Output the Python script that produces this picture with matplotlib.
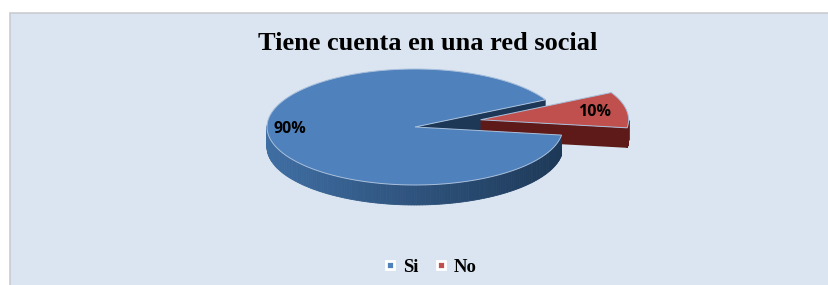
import numpy as np
import matplotlib.pyplot as plt
from matplotlib.patches import Polygon, Rectangle
from matplotlib.lines import Line2D

TITLE = "Tiene cuenta en una red social"
labels = ["Si", "No"]
values = [90, 10]
explode = [0.0, 0.45]

top_colors = ["#4f81bd", "#c0504d"]
side_light = ["#3f6ea3", "#8a2e2b"]
side_dark = ["#1d3857", "#5e1a18"]

# pie geometry in pixel units
cx, cy, rx, ry, depth = 415, 127, 148, 58, 20
start = 28.0


def pts(angles, r=1.0, dz=0.0, off=(0.0, 0.0)):
    t = np.radians(angles)
    x = cx + off[0] + r * rx * np.cos(t)
    y = cy + off[1] - r * ry * np.sin(t) + dz
    return np.column_stack([x, y])


def main():
    fig = plt.figure(figsize=(8.29, 2.85), dpi=100)
    ax = fig.add_axes([0, 0, 1, 1])
    ax.set_xlim(0, 829)
    ax.set_ylim(285, 0)
    ax.axis("off")

    ax.add_patch(Rectangle((10.5, 12.5), 830, 280, fc="#dbe5f1", ec="#c9ccd1", lw=1.2))

    total = sum(values)
    spans = [v / total * 360 for v in values]
    a0s = start + np.concatenate([[0], np.cumsum(spans)[:-1]])
    slices = []
    for i, (a0, sp) in enumerate(zip(a0s, spans)):
        a1 = a0 + sp
        mid = (a0 + a1) / 2
        off = (explode[i] * rx * np.cos(np.radians(mid)),
               -explode[i] * ry * np.sin(np.radians(mid)) - 6 * explode[i])
        slices.append((a0, a1, mid, off))

    # radial faces
    for i, (a0, a1, mid, off) in enumerate(slices):
        for a, vis in ((a0, np.cos(np.radians(a0)) > 0), (a1, np.cos(np.radians(a1)) < 0)):
            if not vis:
                continue
            c = pts([a], r=0, off=off)[0]
            e = pts([a], off=off)[0]
            quad = [c, e, e + [0, depth], c + [0, depth]]
            ax.add_patch(Polygon(quad, closed=True, fc=side_dark[i], ec="none"))

    # outer walls, shaded by angle
    for i, (a0, a1, mid, off) in enumerate(slices):
        angs = np.linspace(a0, a1, 300)
        for j in range(len(angs) - 1):
            am = (angs[j] + angs[j + 1]) / 2
            if np.sin(np.radians(am)) > 0.02:
                continue
            seg = pts([angs[j], angs[j + 1]], off=off)
            quad = [seg[0], seg[1], seg[1] + [0, depth], seg[0] + [0, depth]]
            k = (np.cos(np.radians(am)) + 1) / 2
            c1 = np.array(plt.matplotlib.colors.to_rgb(side_light[i]))
            c2 = np.array(plt.matplotlib.colors.to_rgb(side_dark[i]))
            col = c1 * (1 - k) + c2 * k
            ax.add_patch(Polygon(quad, closed=True, fc=col, ec=col, lw=0.6))

    # tops
    for i, (a0, a1, mid, off) in enumerate(slices):
        arc = pts(np.linspace(a0, a1, 200), off=off)
        poly = np.vstack([pts([0], r=0, off=off), arc])
        ax.add_patch(Polygon(poly, closed=True, fc=top_colors[i], ec="#a9c0dc", lw=0.7))
        r = 0.86 if explode[i] == 0 else 0.78
        lx, ly = pts([mid], r=r, off=off)[0]
        if explode[i] == 0:
            ly -= 7
        ax.text(lx, ly, f"{values[i]}%", ha="center", va="center", fontsize=11.5,
                fontweight="bold", family="Open Sans", color="black")

    ax.text(428, 43, TITLE, ha="center", va="center", fontsize=19,
            fontweight="bold", family="Liberation Serif")

    handles = [Line2D([], [], ls="none", marker="s", markersize=6, markerfacecolor=c,
                      markeredgecolor="white", markeredgewidth=2) for c in top_colors]
    fig.legend(handles, labels, loc="center", bbox_to_anchor=(0.518, 0.063), ncol=2,
               frameon=False, handlelength=0.8, handletextpad=0.3, columnspacing=0.8,
               prop={"family": "Liberation Serif", "weight": "bold", "size": 13.5})

    fig.savefig("out.png", dpi=100)


if __name__ == "__main__":
    main()
